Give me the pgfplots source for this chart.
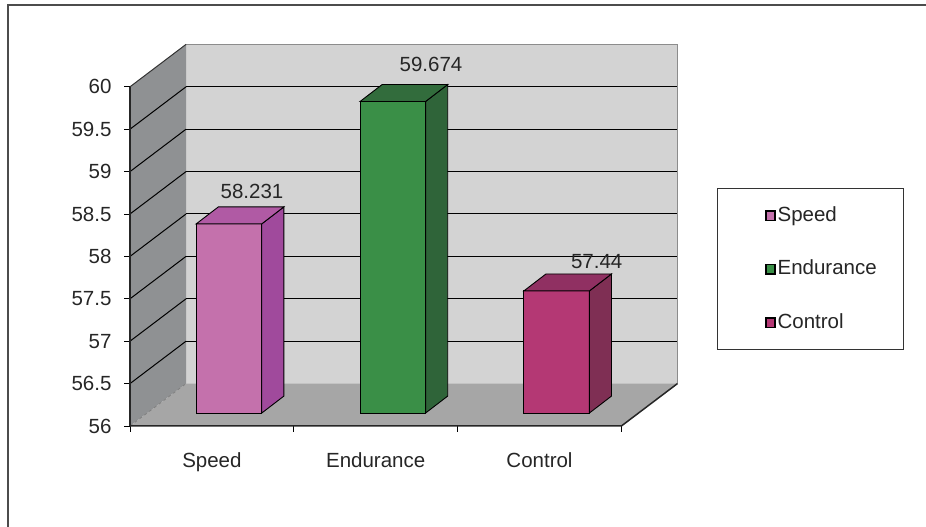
\documentclass[border=0pt]{standalone}
\usepackage{fontspec}
\setmainfont{Liberation Sans}
\usepackage{pgfplots}
\pgfplotsset{compat=1.18}
\definecolor{speedF}{RGB}{196,113,172}
\definecolor{speedS}{RGB}{160,74,156}
\definecolor{speedT}{RGB}{176,90,164}
\definecolor{endF}{RGB}{58,143,71}
\definecolor{endS}{RGB}{47,100,57}
\definecolor{endT}{RGB}{50,108,60}
\definecolor{conF}{RGB}{180,56,116}
\definecolor{conS}{RGB}{127,47,84}
\definecolor{conT}{RGB}{144,48,98}
\definecolor{backW}{RGB}{211,211,211}
\definecolor{leftW}{RGB}{143,145,147}
\definecolor{floorW}{RGB}{166,166,166}
\newcommand{\fs}{\fontsize{20.5}{24}\selectfont}
\begin{document}
\begin{tikzpicture}
\begin{axis}[
  x=163.8pt, y=84.8pt,
  xmin=-0.5, xmax=2.842, ymin=56, ymax=60.5,
  clip=false,
  axis line style={draw=none},
  tick align=outside, tick pos=left,
  major tick length=6pt,
  tick style={black, line width=0.9pt},
  ytick={56,56.5,57,57.5,58,58.5,59,59.5,60},
  yticklabel style={font=\fs, xshift=-9pt, text=black!85},
  xtick={-0.5,0.5,1.5,2.5}, xticklabels={},
  extra x ticks={0,1,2},
  extra x tick labels={Speed,Endurance,Control},
  extra x tick style={major tick length=0pt, xticklabel style={font=\fs, yshift=-23pt, text=black!85}},
  /pgf/number format/assume math mode=true,
  legend style={at={(1.0723,0.6237)}, anchor=north west, draw=black!80, line width=1.2pt,
    inner xsep=0pt, inner ysep=17.5pt, row sep=34.5pt, column sep=0pt, font=\fs,
    nodes={inner sep=0pt, text height=15pt, text depth=4pt, text=black!85}},
  legend cell align=left,
  legend image code/.code={\path[draw=none, fill=none] (0pt,0pt) -- (60pt,0pt);
    \filldraw[#1, draw=black, line width=1.5pt] (48.5pt,-4.7pt) rectangle (57.5pt,4.7pt);},
]
% walls
\addplot[forget plot, fill=backW, draw=none] coordinates {(-0.158,56.5) (2.842,56.5) (2.842,60.5) (-0.158,60.5)} -- cycle;
\addplot[forget plot, fill=leftW, draw=none] coordinates {(-0.5,56) (-0.158,56.5) (-0.158,60.5) (-0.5,60)} -- cycle;
\addplot[forget plot, fill=floorW, draw=none] coordinates {(-0.5,56) (2.5,56) (2.842,56.5) (-0.158,56.5)} -- cycle;
% back wall grid
\draw[black, line width=1pt] (axis cs:-0.158,57) -- (axis cs:2.842,57);
\draw[black, line width=1pt] (axis cs:-0.158,57.5) -- (axis cs:2.842,57.5);
\draw[black, line width=1pt] (axis cs:-0.158,58) -- (axis cs:2.842,58);
\draw[black, line width=1pt] (axis cs:-0.158,58.5) -- (axis cs:2.842,58.5);
\draw[black, line width=1pt] (axis cs:-0.158,59) -- (axis cs:2.842,59);
\draw[black, line width=1pt] (axis cs:-0.158,59.5) -- (axis cs:2.842,59.5);
\draw[black, line width=1pt] (axis cs:-0.158,60) -- (axis cs:2.842,60);
\draw[black!45, line width=0.8pt] (axis cs:-0.158,60.5) -- (axis cs:2.842,60.5) -- (axis cs:2.842,56.5);
% left wall grid
\draw[black, line width=1pt] (axis cs:-0.5,56.5) -- (axis cs:-0.158,57);
\draw[black, line width=1pt] (axis cs:-0.5,57) -- (axis cs:-0.158,57.5);
\draw[black, line width=1pt] (axis cs:-0.5,57.5) -- (axis cs:-0.158,58);
\draw[black, line width=1pt] (axis cs:-0.5,58) -- (axis cs:-0.158,58.5);
\draw[black, line width=1pt] (axis cs:-0.5,58.5) -- (axis cs:-0.158,59);
\draw[black, line width=1pt] (axis cs:-0.5,59) -- (axis cs:-0.158,59.5);
\draw[black, line width=1pt] (axis cs:-0.5,59.5) -- (axis cs:-0.158,60);
\draw[black!80, line width=1pt] (axis cs:-0.5,60) -- (axis cs:-0.158,60.5);
\draw[black!50, dashed, line width=0.8pt] (axis cs:-0.5,56) -- (axis cs:-0.158,56.5);
% front edges
\draw[black!85, line width=1.2pt] (axis cs:-0.5,56) -- (axis cs:-0.5,60);
\draw[black!85, line width=1.5pt] (axis cs:-0.5,56) -- (axis cs:2.5,56) -- (axis cs:2.842,56.5);
% Speed 58.231
\addplot[forget plot, fill=speedF, draw=black, line width=0.9pt] coordinates {(-0.0954,56.153) (0.3046,56.153) (0.3046,58.384) (-0.0954,58.384)} -- cycle;
\addplot[forget plot, fill=speedS, draw=black, line width=0.9pt] coordinates {(0.3046,56.153) (0.4396,56.353) (0.4396,58.584) (0.3046,58.384)} -- cycle;
\addplot[forget plot, fill=speedT, draw=black, line width=0.9pt] coordinates {(-0.0954,58.384) (0.3046,58.384) (0.4396,58.584) (0.0396,58.584)} -- cycle;
% Endurance 59.674
\addplot[forget plot, fill=endF, draw=black, line width=0.9pt] coordinates {(0.9046,56.153) (1.3046,56.153) (1.3046,59.827) (0.9046,59.827)} -- cycle;
\addplot[forget plot, fill=endS, draw=black, line width=0.9pt] coordinates {(1.3046,56.153) (1.4396,56.353) (1.4396,60.027) (1.3046,59.827)} -- cycle;
\addplot[forget plot, fill=endT, draw=black, line width=0.9pt] coordinates {(0.9046,59.827) (1.3046,59.827) (1.4396,60.027) (1.0396,60.027)} -- cycle;
% Control 57.44
\addplot[forget plot, fill=conF, draw=black, line width=0.9pt] coordinates {(1.9046,56.153) (2.3046,56.153) (2.3046,57.593) (1.9046,57.593)} -- cycle;
\addplot[forget plot, fill=conS, draw=black, line width=0.9pt] coordinates {(2.3046,56.153) (2.4396,56.353) (2.4396,57.793) (2.3046,57.593)} -- cycle;
\addplot[forget plot, fill=conT, draw=black, line width=0.9pt] coordinates {(1.9046,57.593) (2.3046,57.593) (2.4396,57.793) (2.0396,57.793)} -- cycle;
% value labels
\node[font=\fs, text=black!85] at (axis cs:0.2448,58.771) {58.231};
\node[font=\fs, text=black!85] at (axis cs:1.3376,60.269) {59.674};
\node[font=\fs, text=black!85] at (axis cs:2.3492,57.9375) {57.44};
% legend
\addlegendimage{fill=speedF}
\addlegendentry{Speed}
\addlegendimage{fill=endF}
\addlegendentry{Endurance\hspace*{27pt}}
\addlegendimage{fill=conF}
\addlegendentry{Control}
% outer border
\draw[black!70, line width=1.5pt] (axis cs:-1.2448,54.809) -- (axis cs:-1.2448,60.9646) -- (axis cs:4.3596,60.9646);
\coordinate (BBsw) at (axis cs:-1.2937,54.809);
\coordinate (BBne) at (axis cs:4.3596,61.0236);
\end{axis}
\pgfresetboundingbox
\path (BBsw) rectangle (BBne);
\end{tikzpicture}
\end{document}
